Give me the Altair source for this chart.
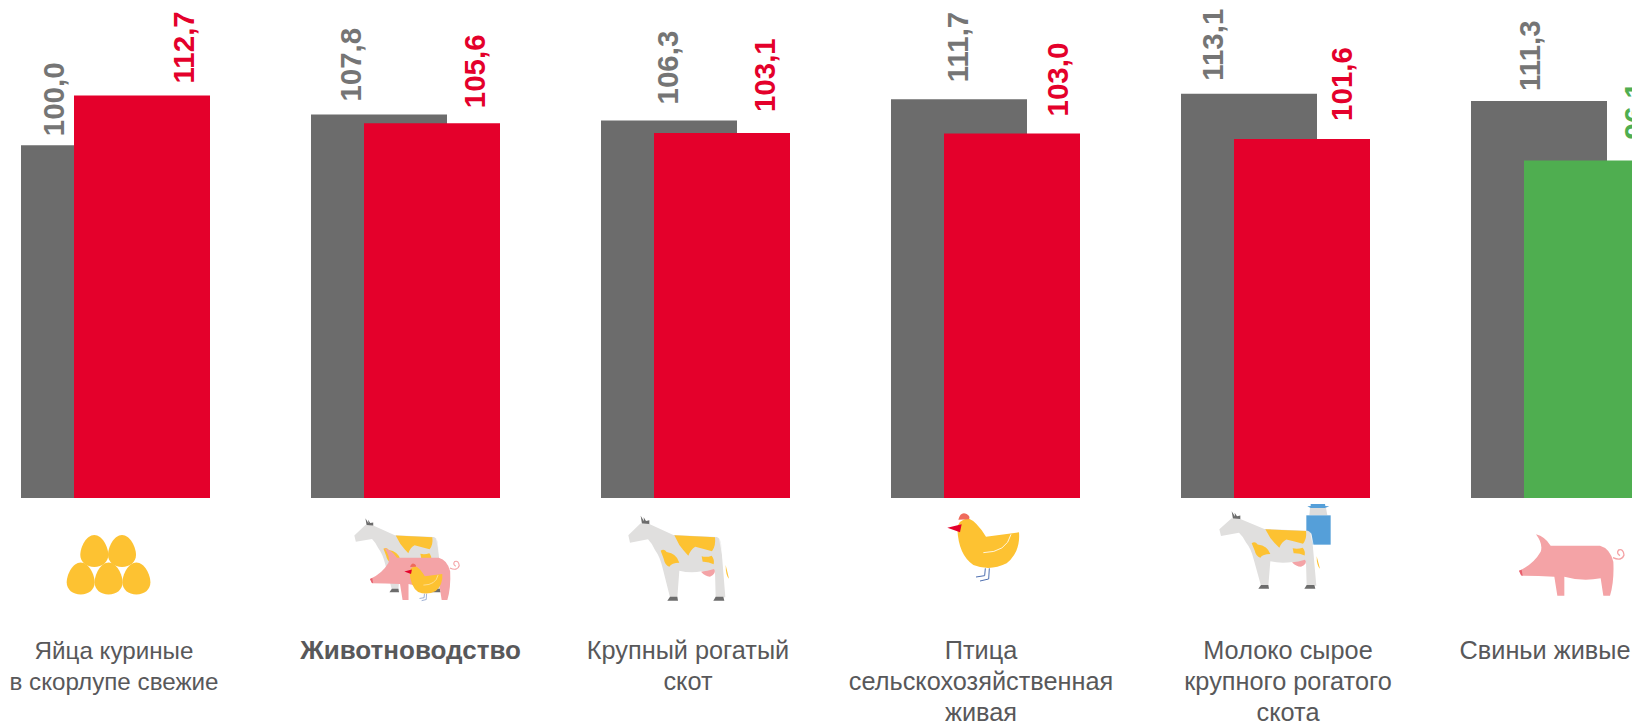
import urllib.parse
import altair as alt
import pandas as pd

categories = [
    "Яйца куриные\nв скорлупе свежие",
    "Животноводство",
    "Крупный рогатый\nскот",
    "Птица\nсельскохозяйственная\nживая",
    "Молоко сырое\nкрупного рогатого\nскота",
    "Свиньи живые",
]
prev_values = [100.0, 107.8, 106.3, 111.7, 113.1, 111.3]
curr_values = [112.7, 105.6, 103.1, 103.0, 101.6, 96.1]

GREY, RED, GREEN = "#6c6c6c", "#e4002b", "#4fae50"
GREY_TXT = "#757575"
LABEL = "#58585a"
W, H = 1624, 715
BASE = 10

x_scale = alt.Scale(domain=categories, range=[-64, 1676], paddingInner=0, paddingOuter=0)
y_scale = alt.Scale(domain=[BASE, 135], range=[490, 0], zero=False, nice=False)
X = alt.X("cat:N", scale=x_scale, axis=None, sort=None)
Y = alt.Y("value:Q", scale=y_scale, axis=None)
status_scale = alt.Scale(domain=["up", "down"], range=[RED, GREEN])


def fmt(v):
    return f"{v:.1f}".replace(".", ",")


prev = pd.DataFrame({"cat": categories, "value": prev_values, "txt": [fmt(v) for v in prev_values]})
curr = pd.DataFrame({
    "cat": categories, "value": curr_values, "txt": [fmt(v) for v in curr_values],
    "status": ["up" if v >= 100 else "down" for v in curr_values],
})

# ---- icons ----
COW_C, SPOT, PINK, HOOF = "#e0dfde", "#fdc232", "#f4a3a6", "#6c6c6c"
COW = (
    f'<path fill="{HOOF}" d="M62 17L72 34L71 22L78 33L88 31L88 46L66 42Z"/>'
    f'<path fill="{COW_C}" d="M25 76L62 40L88 42L160 75L290 81Q300 84 303 100L316 262L287 262L285 184Q265 192 245 184Q210 190 178 182L172 262L150 262L128 175Q120 140 105 120Q96 100 84 88L30 98Z"/>'
    f'<path fill="{SPOT}" d="M163 76L285 82Q288 108 276 124Q250 116 226 110Q212 118 205 137Q190 122 178 105Z"/>'
    f'<path fill="{SPOT}" d="M122 122Q132 115 140 126Q170 130 178 158Q155 158 148 170Q135 166 131 146Z"/>'
    f'<path fill="{SPOT}" d="M245 139Q260 143 275 137Q284 148 281 163Q265 154 248 155Z"/>'
    f'<path fill="{PINK}" d="M243 185Q262 184 282 177Q291 190 270 200Q255 199 243 185Z"/>'
    f'<path fill="{HOOF}" d="M142 272L150 260L172 260L174 272Z"/>'
    f'<path fill="{HOOF}" d="M280 272L287 260L310 260L313 272Z"/>'
    f'<path fill="none" stroke="#ffffff" stroke-width="2" d="M299 88L316 178"/>'
    f'<path fill="{SPOT}" d="M317 165L327 206Q317 196 317 165Z"/>'
)
PIG = (
    f'<path fill="{PINK}" d="M27 137Q70 118 92 80Q100 58 78 28Q105 35 122 62L270 62Q300 70 310 110Q313 170 300 212L280 212L272 160Q215 170 163 155L163 212L142 212L133 155Q80 152 35 152Z"/>'
    f'<path fill="none" stroke="{PINK}" stroke-width="4" d="M309 98Q335 110 342 90Q340 70 326 75Q318 85 330 92"/>'
    f'<path fill="#e8606e" d="M27 137L35 134L38 152L33 151Z"/>'
)
CHICK = (
    f'<path fill="{SPOT}" d="M52 70Q55 45 85 40Q110 50 138 95L237 82Q242 140 200 175Q150 200 100 180Q55 150 52 70Z"/>'
    f'<path fill="#ef6a5c" d="M55 44Q62 18 80 27Q92 34 87 43Z"/>'
    f'<path fill="#e4002b" d="M22 68L65 58L60 82Z"/>'
    f'<path fill="none" stroke="#ffffff" stroke-width="2.5" d="M213 88Q200 142 130 143"/>'
    f'<path fill="none" stroke="#4e6fb0" stroke-width="3" d="M136 190L134 212L108 216M148 190L146 222L120 228"/>'
)
CAN = (
    '<path fill="#dcdcdc" d="M300 30L348 30L352 52L298 52Z"/>'
    '<path fill="#559fd9" d="M302 18L345 18L346 24L358 25L345 30L302 30L292 25L302 24Z"/>'
    '<path fill="#559fd9" d="M289 52L362 52L362 140L289 140Z"/>'
)
EGG = "M0 -16C8 -16 14 -4 14 4C14 11 8 16 0 16C-8 16 -14 11 -14 4C-14 -4 -8 -16 0 -16Z"
EGGS = "".join(
    f'<path fill="{SPOT}" transform="translate({a} {b})" d="{EGG}"/>'
    for a, b in [(28.3, 17), (56, 17), (14.7, 44.5), (42.6, 44.5), (70.4, 44.5)]
)


def g(body, tx, ty, sx, sy):
    return f'<g transform="translate({tx} {ty}) scale({sx} {sy})">{body}</g>'


def svg(body, w, h, vw, vh):
    s = (f'<svg xmlns="http://www.w3.org/2000/svg" width="{w}" height="{h}" '
         f'viewBox="0 0 {vw} {vh}" preserveAspectRatio="none">{body}</svg>')
    return "data:image/svg+xml," + urllib.parse.quote(s)


MIXED = g(COW, 5.5, 10.2, .9, .87) + g(PIG, 52, 91.4, .85, .842) + g(CHICK, 166.3, 147, .53, .548)
COWCAN = CAN + g(COW, 3, 24.5, 1, .91)

# icon: category index, page box (left, top, w, h), svg markup, viewbox size
icons = [
    (0, 66, 534, 86, 62, EGGS, 86, 62),
    (1, 345, 510, 125, 95, MIXED, 375, 285),
    (2, 620, 510, 120, 95, COW, 360, 285),
    (3, 940, 505, 90, 85, CHICK, 270, 255),
    (4, 1210, 498, 130, 100, COWCAN, 390, 300),
    (5, 1510, 525, 125, 80, PIG, 375, 240),
]

band_center = [89 + 290 * i for i in range(6)]  # page x of each band's centre

layers = [
    alt.Chart(prev).mark_bar(size=136, color=GREY, clip=True).encode(
        x=X, y=Y, y2=alt.Y2(datum=BASE)),
    alt.Chart(curr).mark_bar(size=136, xOffset=53, clip=True).encode(
        x=X, y=Y, y2=alt.Y2(datum=BASE),
        color=alt.Color("status:N", scale=status_scale, legend=None)),
]

grey_dx = [-34, -27, 0, 0, -35, -8]
grey_gap = [9, 13, 16, 17, 13, 10]
red_dx = [96, 97, 97, 100, 94, 97]
red_gap = [12, 15, 21, 17, 18, 21]
label_dx = [25, 31.6, 19, 22, 39, 6]
label_size = [24.2, 26, 25.3, 25.3, 25.3, 25.3]

for i in range(6):
    layers.append(alt.Chart(prev.iloc[[i]]).mark_text(
        font="Liberation Sans", fontSize=29.5, fontWeight="bold", angle=270, align="left",
        baseline="middle", color=GREY_TXT, xOffset=grey_dx[i], yOffset=-grey_gap[i], clip=True,
    ).encode(x=X, y=Y, text="txt:N"))
    layers.append(alt.Chart(curr.iloc[[i]]).mark_text(
        font="Liberation Sans", fontSize=29.5, fontWeight="bold", angle=270, align="left",
        baseline="middle", xOffset=red_dx[i], yOffset=-red_gap[i], clip=True,
    ).encode(x=X, y=Y, text="txt:N",
             color=alt.Color("status:N", scale=status_scale, legend=None)))
    layers.append(alt.Chart(prev.iloc[[i]]).mark_text(
        font="Liberation Sans", fontSize=label_size[i], fontWeight="bold" if i == 1 else "normal",
        align="center", baseline="alphabetic", color=LABEL, lineBreak="\n", lineHeight=31,
        xOffset=label_dx[i], clip=True,
    ).encode(x=X, y=alt.value(651), text="cat:N"))

for i, left, top, w, h, body, vw, vh in icons:
    d = pd.DataFrame({"cat": [categories[i]], "url": [svg(body, w, h, vw, vh)]})
    layers.append(alt.Chart(d).mark_image(
        width=w, height=h, aspect=False, xOffset=left + w / 2 - band_center[i],
    ).encode(x=X, y=alt.value(top + h / 2 - 8), url="url:N"))

chart = alt.layer(*layers).properties(
    width=W, height=H, padding=0, autosize=alt.AutoSizeParams(type="none"),
).configure_view(stroke=None)

chart.save("out.html", embed_options={"renderer": "svg", "actions": False})
